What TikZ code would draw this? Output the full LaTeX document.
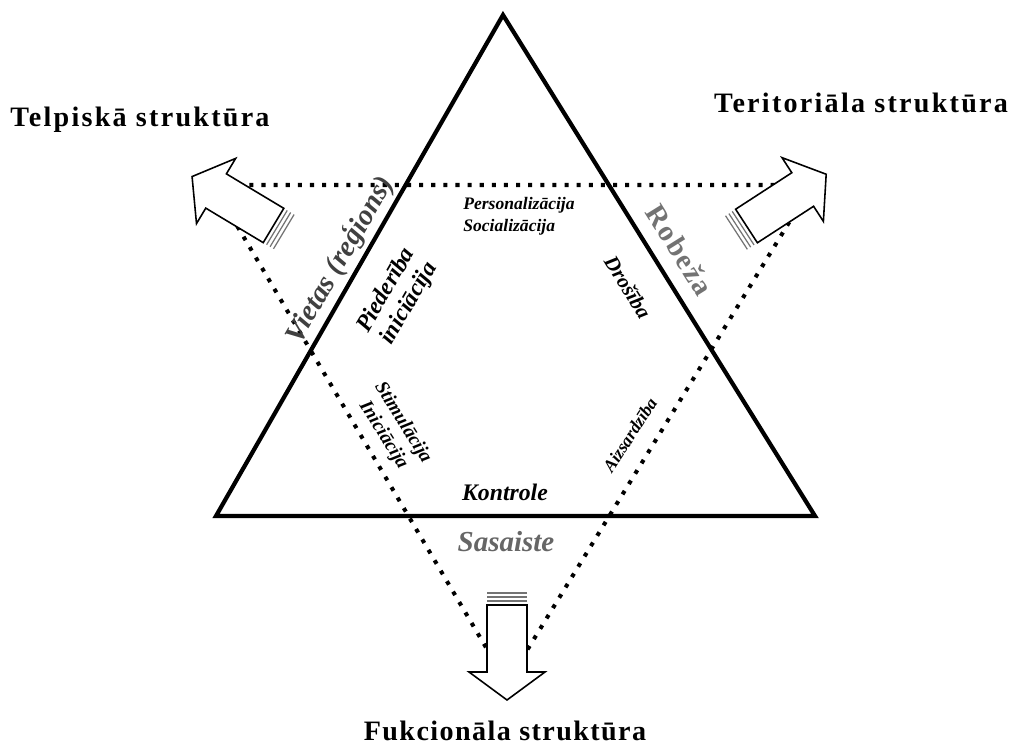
\documentclass[tikz,border=0pt]{standalone}
\usepackage{fontspec}
\setmainfont{Liberation Serif}
\tikzset{edge/.style = {line width = 2.4pt, line join = miter}}
\tikzset{dots/.style = {line width = 2.3pt, dash pattern = on 2.3pt off 4.6pt}}
\tikzset{arrowline/.style = {draw, fill = white, line width = 0.9pt, line join = miter}}
\tikzset{stripe/.style = {black!55, line width = 0.7pt}}
\tikzset{title/.style = {inner sep = 0, anchor = base,
                         font = \fontsize{16}{18}\selectfont\bfseries\addfontfeatures{LetterSpace = 8}}}
\tikzset{biglbl/.style = {inner sep = 0, font = \fontsize{16.5}{18}\selectfont\bfseries\itshape}}
\tikzset{lbl/.style = {inner sep = 0, align = center, font = \fontsize{12}{14}\selectfont\bfseries\itshape}}
\tikzset{small/.style = {inner sep = 0, align = left, font = \fontsize{10}{12.5}\selectfont\bfseries\itshape}}
\tikzset{bigarrow/.pic = {
  \draw [arrowline] (0, -20) -- (67, -20) -- (67, -38) -- (95, 0) -- (67, 38) -- (67, 20) -- (0, 20) -- cycle;
  \foreach \s in {4, 8, 12} \draw [stripe] (-\s, -20) -- (-\s, 20);
}}

\begin{document}
\begin{tikzpicture}[x = 0.02cm, y = -0.02cm]
  \useasboundingbox (0, 0) rectangle (1021, 746);

  \coordinate (apex) at (503, 15);
  \coordinate (bl) at (216, 516);
  \coordinate (br) at (815, 516);
  \coordinate (tl) at (213, 185);
  \coordinate (tr) at (812, 185);
  \coordinate (bot) at (507, 683);

  \draw [dots] (tl) -- (tr) -- (bot) -- cycle;
  \draw [edge] (apex) -- (bl) -- (br) -- cycle;

  \pic [rotate = 149] at (273.5, 225.5) {bigarrow};
  \pic [rotate = 33] at (746.5, 226) {bigarrow};
  \pic [rotate = -90] at (507, 605) {bigarrow};

  \node [title] (telpiska) at (140, 127) {Telpiskā struktūra};
  \node [title] (teritoriala) at (861, 113) {Teritoriāla struktūra};
  \node [title, font = \fontsize{16}{18}\selectfont\bfseries\addfontfeatures{LetterSpace = 5}] (fukcionala) at (505, 740) {Fukcionāla struktūra};

  \node [biglbl, text = black!75, rotate = 60] (vietas) at (340, 260) {Vietas (reģions)};
  \node [biglbl, text = black!55, rotate = -58, font = \fontsize{16.5}{18}\selectfont\bfseries\addfontfeatures{LetterSpace = 6}] (robeza) at (680, 250) {Robeža};
  \node [biglbl, text = black!60] (sasaiste) at (506, 542) {Sasaiste};

  \node [small, anchor = west] (personalizacija) at (463, 216) {Personalizācija\\Socializācija};
  \node [lbl, rotate = 60, font = \fontsize{13.5}{15}\selectfont\bfseries\itshape] (piederiba) at (398, 297) {Piederība\\iniciācija};
  \node [lbl, rotate = -58] (drosiba) at (628, 287) {Drošība};
  \node [lbl, rotate = -58, font = \fontsize{11}{13}\selectfont\bfseries\itshape] (stimulacija) at (393, 429) {Stimulācija\\Iniciācija};
  \node [lbl, rotate = 57, font = \fontsize{10}{12}\selectfont\bfseries\itshape] (aizsardziba) at (630, 435) {Aizsardzība};
  \node [lbl, font = \fontsize{13.5}{15}\selectfont\bfseries\itshape] (kontrole) at (505, 492) {Kontrole};
\end{tikzpicture}
\end{document}
